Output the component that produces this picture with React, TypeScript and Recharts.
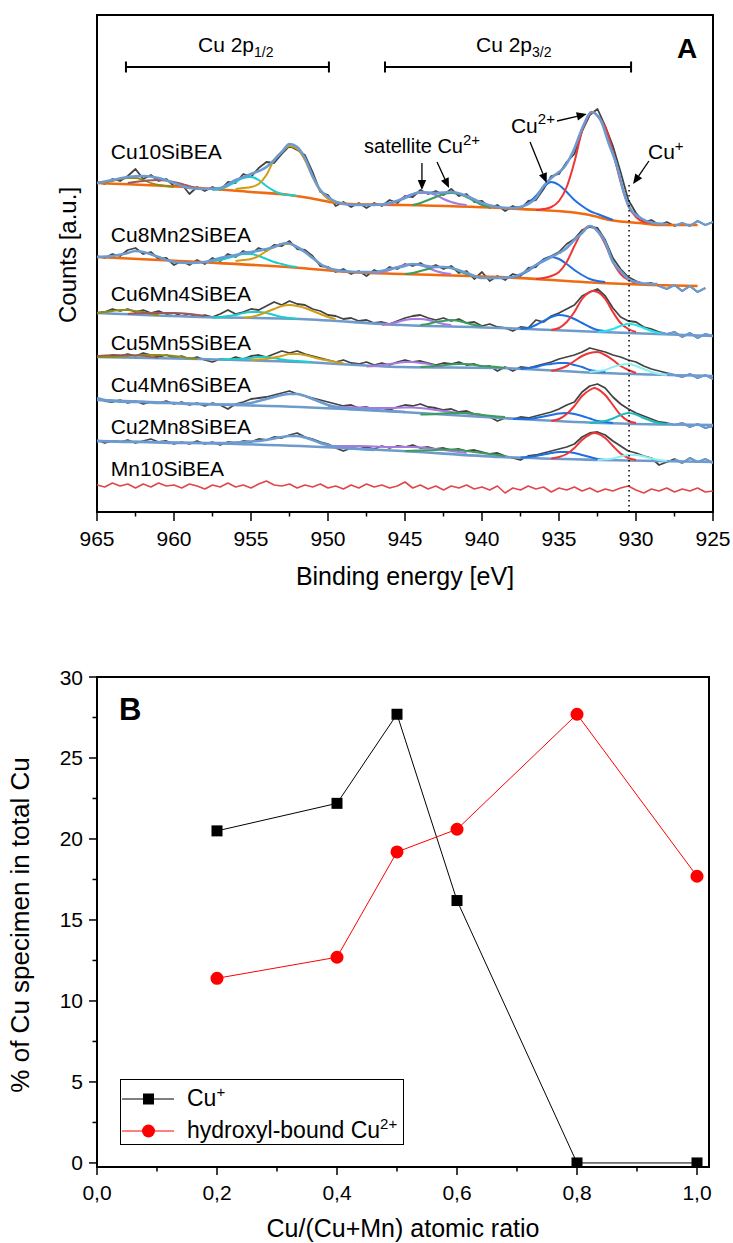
import React from 'react';
import {
  ComposedChart,
  Line,
  XAxis,
  YAxis,
  ReferenceLine,
  ReferenceDot,
  ReferenceArea,
  Legend,
} from 'recharts';

const FONT = '"Liberation Sans", Arial, Helvetica, sans-serif';

type Pt = [number, number];
type Raw = (number | null)[];

/* ===================== Panel A data: Cu 2p XPS spectra ===================== */
/* raw spectra sampled every 0.5 eV from 965 eV down to 925 eV (81 values) */
const RAW_START_EV = 965;
const RAW_STEP_EV = 0.5;

const CU10_RAW: Raw = [
  330, 328, 333, 331, 336, 343, 333, 337, 331, 333,
  326, 328, 318, 325, 321, 325, 322, 330, 329, 338,
  335, 344, 350, 349, 358, 366, 362, 357, 340, 320,
  317, 306, 310, 305, 309, 304, 309, 306, 312, 309,
  316, 315, 322, 318, 321, 317, 323, 316, 318, 310,
  311, 304, 307, 301, 306, 303, 311, 312, 323, 336,
  338, 350, 358, 381, 397, 403, 386, 366, 340, 312,
  299, 290, 292, 287, 290, 286, 289, 286, 291, 287,
  290,
];
const CU10_ENV: Pt[] = [
  [965, 329], [964, 332], [963, 335], [962, 336], [961, 334], [960, 329], [959, 324], [958, 323],
  [957, 324], [956, 332], [955, 338], [954, 345], [953.5, 352], [953, 360], [952.5, 368], [952, 365],
  [951.5, 354], [951, 336], [950.5, 322], [950, 315], [949, 308], [948, 307], [947, 307], [946, 309],
  [945, 314], [944, 320], [943, 319], [942, 320], [941, 316], [940, 309], [939, 305], [938, 304],
  [937, 308], [936.5, 314], [936, 326], [935.5, 334], [935, 340], [934.7, 344], [934.1, 360],
  [933.4, 387], [932.9, 400], [932.3, 392], [931.8, 370], [931.2, 344], [930.8, 320], [930.4, 304],
  [929.7, 294], [928.9, 289], [928, 288],
];
const CU10_BG: Pt[] = [
  [965, 329], [958.3, 324], [955, 320], [952.5, 317], [951.2, 314], [949.9, 310], [948.6, 308],
  [945.2, 307], [938.8, 304], [936.2, 302], [934.3, 300], [933, 297], [931.7, 292], [929.8, 289],
  [928.5, 287], [926, 287],
];
const CU10_RED: Pt[] = [
  [936.5, 302], [936, 303], [935.5, 305], [935, 311], [934.5, 325], [934, 350], [933.5, 381],
  [933, 398], [932.8, 400], [932.5, 396], [932, 385], [931.5, 360], [931, 330], [930.5, 306],
  [930, 295], [929.5, 290], [929, 289],
];
const CU10_BLUE: Pt[] = [
  [938, 304], [937.5, 305], [937, 309], [936.5, 316], [936, 325], [935.5, 330], [935, 327],
  [934.5, 320], [934, 312], [933.5, 306], [933, 301], [932.5, 298], [932, 295], [931.5, 292],
];
const CU10_PURPLE: Pt[] = [
  [946.5, 307], [946, 308], [945.5, 311], [945, 315], [944.5, 318], [944, 319], [943.5, 319],
  [943, 317], [942.5, 313], [942, 310], [941.5, 308], [941, 307],
];
const CU10_GREEN: Pt[] = [
  [944.5, 307], [944, 309], [943.5, 312], [943, 315], [942.5, 318], [942, 319], [941.5, 318],
  [941, 315], [940.5, 311], [940, 307], [939.5, 305],
];
const CU10_GOLD: Pt[] = [
  [956, 323], [955.5, 324], [955, 325], [954.5, 328], [954, 337], [953.5, 352], [953, 360],
  [952.5, 366], [952, 363], [951.5, 352], [951, 335], [950.5, 321], [950, 313], [949.5, 310], [949, 309],
];
const CU10_CYAN: Pt[] = [
  [957.5, 322], [957, 323], [956.5, 326], [956, 330], [955.5, 334], [955, 335], [954.5, 332],
  [954, 326], [953.5, 321], [953, 318], [952.5, 317], [952, 316],
];
const CU10_OLIVE: Pt[] = [
  [965, 329], [964.5, 330], [964, 331], [963.5, 333], [963, 334], [962.5, 334], [962, 332],
  [961.5, 329], [961, 327], [960.5, 326], [960, 325],
];
const CU10_BROWN: Pt[] = [[963, 329], [962, 331], [961, 332], [960, 330], [959, 326], [958.5, 324]];

const CU82_RAW: Raw = [
  256, 254, 258, 256, 262, 264, 258, 260, 253, 254,
  247, 251, 247, 252, 248, 254, 251, 258, 255, 261,
  258, 264, 261, 267, 266, 271, 263, 262, 256, 246,
  245, 240, 243, 238, 241, 236, 242, 239, 245, 243,
  248, 246, 249, 244, 247, 243, 246, 239, 241, 233,
  240, 231, 236, 232, 238, 236, 244, 245, 253, 256,
  260, 268, 273, 282, 285, 284, 272, 254, 243, 235,
  231, 228, 229, 226, 223, 227, 221, 226, 220, 224,
  null,
];
const CU82_ENV: Pt[] = [
  [965, 255], [964, 256], [963, 259], [962.5, 261], [962, 260], [961, 255], [960, 250], [959, 249],
  [958, 250], [957, 254], [956, 257], [955.5, 259], [955, 260], [954, 263], [953.5, 265], [953, 268],
  [952.7, 269], [952, 265], [951.5, 260], [951, 254], [950.5, 248], [950, 244], [949, 241], [948, 240],
  [947, 240], [946, 243], [945, 246], [944.5, 248], [944, 247], [943, 245], [942.5, 245], [942, 244],
  [941, 239], [940, 234], [939, 234], [938, 235], [937, 242], [936.5, 247], [936, 251], [935.5, 255],
  [935, 259], [934.5, 264], [934, 272], [933.5, 279], [933, 286], [932.5, 281], [932, 270],
  [931.5, 250], [931, 241], [930.5, 233], [930, 230], [929, 228], [928.6, 228],
];
const CU82_BG: Pt[] = [
  [965, 255], [958.3, 250], [951.8, 244], [948.6, 240], [945.2, 238], [938.8, 235], [932.3, 229],
  [929, 227], [926, 226],
];
const CU82_RED: Pt[] = [
  [936.5, 233], [936, 234], [935.5, 236], [935, 240], [934.5, 250], [934, 266], [933.5, 280],
  [933, 286], [932.5, 281], [932, 268], [931.5, 250], [931, 238], [930.5, 232], [930, 229],
];
const CU82_BLUE: Pt[] = [
  [938, 235], [937.5, 237], [937, 241], [936.5, 247], [936, 252], [935.5, 255], [935, 253],
  [934.5, 248], [934, 242], [933.5, 237], [933, 233], [932.5, 231], [932, 230],
];
const CU82_PURPLE: Pt[] = [
  [947, 239], [946.5, 240], [946, 242], [945.5, 245], [945, 247], [944.5, 248], [944, 247],
  [943.5, 244], [943, 241], [942.5, 239], [942, 238],
];
const CU82_GREEN: Pt[] = [
  [945, 238], [944.5, 239], [944, 241], [943.5, 243], [943, 245], [942.5, 245], [942, 244],
  [941.5, 241], [941, 238], [940.5, 236],
];
const CU82_GOLD: Pt[] = [
  [956, 251], [955.5, 252], [955, 253], [954.5, 256], [954, 261], [953.5, 265], [953, 268],
  [952.5, 268], [952, 265], [951.5, 260], [951, 254], [950.5, 248], [950, 244], [949.5, 242],
];
const CU82_CYAN: Pt[] = [
  [958, 250], [957.5, 251], [957, 252], [956.5, 254], [956, 256], [955.5, 258], [955, 258],
  [954.5, 256], [954, 253], [953.5, 250], [953, 248], [952.5, 246], [952, 245],
];

const CU64_RAW: Raw = [
  199, 200, 203, 201, 203, 200, 202, 199, 201, 198,
  199, 196, 198, 195, 197, 195, 198, 202, 198, 200,
  203, 202, 206, 210, 207, 211, 208, 207, 203, 201,
  197, 196, 193, 194, 191, 192, 189, 190, 188, 191,
  194, 196, 197, 194, 192, 194, 191, 193, 189, 190,
  186, 188, 185, 184, 181, 185, 184, 192, 190, 196,
  199, 203, 207, 216, 220, 223, 216, 204, 195, 191,
  190, 185, 183, 180, 178, 180, 175, 179, 174, 178,
  176,
];
const CU64_BG: Pt[] = [[965, 199], [958.3, 195], [951.8, 193], [945.2, 187], [938.8, 184], [932.3, 180], [925, 176]];
const CU64_OLIVE: Pt[] = [
  [965, 199], [964.5, 200], [964, 201], [963.5, 202], [963, 202], [962.5, 201], [962, 200], [961.5, 198], [961, 197],
];
const CU64_BROWN: Pt[] = [[963, 198], [962, 199], [961, 199], [960, 199], [959, 198], [958, 196]];
const CU64_CYAN: Pt[] = [
  [957.5, 194], [957, 195], [956.5, 196], [956, 197], [955.5, 199], [955, 200], [954.5, 200],
  [954, 199], [953.5, 197], [953, 195], [952.5, 194], [952, 193],
];
const CU64_GOLD: Pt[] = [
  [955.5, 194], [955, 195], [954.5, 197], [954, 200], [953.5, 203], [953, 206], [952.5, 207],
  [952, 206], [951.5, 204], [951, 201], [950.5, 198], [950, 195], [949.5, 193],
];
const CU64_PURPLE: Pt[] = [
  [946.5, 187], [946, 188], [945.5, 190], [945, 192], [944.5, 193], [944, 193], [943.5, 192],
  [943, 190], [942.5, 188], [942, 187],
];
const CU64_GREEN: Pt[] = [
  [944, 187], [943.5, 188], [943, 190], [942.5, 191], [942, 192], [941.5, 191], [941, 189], [940.5, 187], [940, 186],
];
const CU64_BLUE: Pt[] = [
  [937.5, 183], [937, 184], [936.5, 187], [936, 191], [935.5, 195], [935, 197], [934.5, 196],
  [934, 193], [933.5, 189], [933, 185], [932.5, 182], [932, 181],
];
const CU64_RED: Pt[] = [
  [935.5, 182], [935, 184], [934.5, 190], [934, 200], [933.5, 213], [933, 220], [932.8, 221],
  [932.5, 220], [932, 213], [931.5, 200], [931, 189], [930.5, 183], [930, 180],
];
const CU64_CUPLUS: Pt[] = [
  [932.5, 180], [932, 181], [931.5, 183], [931, 186], [930.5, 188], [930, 187], [929.5, 184],
  [929, 181], [928.5, 179], [928, 178],
];

const CU55_RAW: Raw = [
  156, 155, 157, 156, 158, 156, 159, 157, 155, 157,
  154, 156, 153, 155, 152, 150, 153, 152, 155, 153,
  156, 157, 155, 158, 161, 159, 161, 158, 156, 154,
  152, 150, 152, 149, 148, 150, 147, 149, 147, 150,
  152, 150, 151, 149, 147, 149, 148, 150, 147, 148,
  145, 146, 141, 145, 141, 145, 144, 146, 148, 150,
  153, 155, 157, 160, 164, 162, 160, 157, 155, 152,
  150, 146, 143, 141, 139, 137, 135, 138, 134, 137,
  133,
];
const CU55_BG: Pt[] = [[965, 155], [958.3, 153], [951.8, 150], [945.2, 145], [938.8, 144], [932.3, 139], [925, 136]];
const CU55_OLIVE: Pt[] = [[965, 155], [964, 155], [963, 156], [962, 157], [961, 157], [960, 156], [959, 154], [958.5, 153]];
const CU55_BROWN: Pt[] = [[965, 156], [964, 157], [963, 157], [962, 156], [961, 154]];
const CU55_CYAN: Pt[] = [
  [957, 152.5], [956, 153], [955, 154], [954.5, 155], [954, 155], [953.5, 154], [953, 152.5], [952, 151], [951, 150],
];
const CU55_GOLD: Pt[] = [
  [955, 152], [954.5, 152.5], [954, 153], [953.5, 154.5], [953, 156], [952.5, 158], [952, 158],
  [951.5, 157], [951, 155], [950.5, 153], [950, 151.5], [949.5, 150], [949, 149],
];
const CU55_PURPLE: Pt[] = [
  [947.5, 145.5], [947, 146], [946.5, 147], [946, 148], [945.5, 149], [945, 150], [944.5, 150],
  [944, 149], [943.5, 148], [943, 146], [942.5, 145],
];
const CU55_GREEN: Pt[] = [
  [944, 145], [943, 146], [942, 147.5], [941.5, 148], [941, 148], [940.5, 147], [940, 146], [939, 145], [938.5, 144],
];
const CU55_BLUE: Pt[] = [
  [937.5, 143], [937, 144], [936.5, 145], [936, 147], [935.5, 148], [935, 149], [934.5, 149],
  [934, 147], [933.5, 145], [933, 142], [932.5, 141], [932, 140],
];
const CU55_RED: Pt[] = [
  [935.5, 141], [935, 143], [934.5, 146], [934, 151], [933.5, 156], [933, 159], [932.5, 160],
  [932, 157], [931.5, 152], [931, 146], [930.5, 142], [930, 139],
];
const CU55_CUPLUS: Pt[] = [
  [933, 140], [932.5, 141], [932, 142], [931.5, 145], [931, 147], [930.5, 148], [930, 146],
  [929.5, 143], [929, 140], [928.5, 138], [928, 137],
];

const CU46_RAW: Raw = [
  114, 111, 110, 112, 109, 111, 108, 110, 109, 111,
  108, 110, 107, 109, 106, 109, 107, 103, 108, 110,
  113, 114, 115, 117, 119, 121, 118, 116, 114, 112,
  110, 108, 106, 107, 104, 105, 103, 104, 102, 105,
  107, 106, 108, 105, 104, 102, 103, 100, 101, 98,
  97, 95, 91, 94, 93, 95, 94, 96, 98, 100,
  103, 107, 110, 120, 126, 128, 124, 115, 108, 103,
  99, 96, 93, 90, 89, 87, 89, 85, 88, 84,
  86,
];
const CU46_ENV: Pt[] = [
  [965, 114], [964.5, 112], [964, 111], [963, 110], [962, 110], [961, 109], [960, 109], [959, 108],
  [958, 108], [957, 107.5], [956, 107.5], [955, 109], [954.5, 111], [954, 113], [953.5, 115], [953, 117],
  [952.5, 118], [952, 118], [951.5, 116], [951, 113], [950.5, 110], [950, 107], [949.5, 105],
  [949, 104], [948.5, 103], [948, 103], [947, 102], [946, 101], [945, 100],
];
const CU46_BG: Pt[] = [[965, 112], [958.3, 108], [951.8, 105], [945.2, 100], [938.8, 94], [932.3, 89], [925, 87]];
const CU46_PURPLE: Pt[] = [
  [950, 106], [949, 105], [948, 104.5], [947, 104], [946, 104], [945, 104.5], [944.5, 104.5],
  [944, 104], [943, 102], [942, 100], [941, 98.5], [940, 97],
];
const CU46_GREEN: Pt[] = [
  [944, 97.5], [943, 98], [942, 99], [941.5, 99], [941, 99], [940.5, 98], [940, 97], [939, 95.5], [938.5, 95],
];
const CU46_BLUE: Pt[] = [
  [938, 93], [937, 93], [936.5, 94], [936, 95.5], [935.5, 97], [935, 98.5], [934.5, 99], [934, 98],
  [933.5, 96], [933, 93.5], [932.5, 91], [932, 90], [931.5, 89],
];
const CU46_RED: Pt[] = [
  [935.5, 91], [935, 93], [934.5, 98], [934, 106], [933.5, 116], [933, 122], [932.7, 124],
  [932.5, 123], [932, 117], [931.5, 107], [931, 97], [930.5, 91], [930, 89],
];
const CU46_CUPLUS: Pt[] = [
  [933, 89], [932.5, 90], [932, 91], [931.5, 93.5], [931, 97], [930.5, 99], [930, 97.5],
  [929.5, 94], [929, 91], [928.5, 89], [928, 88],
];

const CU28_RAW: Raw = [
  72, 69, 71, 70, 72, 69, 71, 73, 70, 71,
  68, 70, 68, 71, 68, 70, 67, 70, 69, 71,
  70, 73, 72, 75, 74, 77, 79, 75, 73, 70,
  68, 64, 61, 64, 63, 65, 63, 66, 64, 66,
  65, 67, 64, 65, 63, 64, 62, 63, 61, 62,
  60, 58, 59, 56, 54, 52, 56, 57, 59, 61,
  63, 65, 68, 75, 79, 80, 77, 71, 66, 61,
  59, 56, 54, 47, 50, 53, 49, 54, 50, 53,
  49,
];
const CU28_ENV: Pt[] = [
  [965, 71], [964, 70.5], [963, 70], [962, 70], [961, 69.5], [960, 69], [959, 69], [958, 69],
  [957, 69], [956, 69.5], [955, 70.5], [954, 72], [953.5, 73.5], [953, 75], [952.5, 76], [952, 76],
  [951.5, 74.5], [951, 72], [950.5, 69], [950, 67], [949.5, 65], [949, 64], [948, 63], [947, 62],
];
const CU28_BG: Pt[] = [[965, 71], [958.3, 69], [951.8, 66], [945.2, 61], [938.8, 55], [932.3, 52], [925, 50]];
const CU28_PURPLE: Pt[] = [
  [950, 66], [949, 66], [948, 66], [947, 65.5], [946, 65], [945, 65], [944.5, 65], [944, 64.5],
  [943, 63], [942, 61], [941, 59],
];
const CU28_GREEN: Pt[] = [
  [945, 61], [944, 61.5], [943, 62], [942.5, 62.5], [942, 62.5], [941.5, 62], [941, 61], [940, 59], [939, 57], [938.5, 56],
];
const CU28_BLUE: Pt[] = [
  [937.5, 54.5], [937, 55], [936.5, 56], [936, 57.5], [935.5, 59], [935, 60], [934.5, 60],
  [934, 59], [933.5, 57], [933, 55], [932.5, 53], [932, 52],
];
const CU28_RED: Pt[] = [
  [935.5, 53.5], [935, 55], [934.5, 58], [934, 64], [933.5, 72], [933, 77.5], [932.7, 79],
  [932.5, 78.5], [932, 74], [931.5, 66], [931, 58.5], [930.5, 54], [930, 52],
];
const CU28_CUPLUS: Pt[] = [
  [932.5, 52], [932, 52.5], [931.5, 53.5], [931, 55.5], [930.5, 57], [930, 57], [929.5, 55.5],
  [929, 53.5], [928.5, 52], [928, 51],
];

const MN10_RAW: Raw = [
  27, 25, 29, 26, 28, 24, 28, 25, 29, 26,
  27, 24, 28, 26, 23, 27, 25, 29, 25, 27,
  24, 28, 31, 27, 26, 28, 24, 27, 25, 28,
  24, 26, 23, 27, 24, 28, 25, 27, 24, 26,
  30, 24, 27, 23, 26, 22, 26, 24, 27, 23,
  25, 22, 26, 19, 24, 22, 26, 23, 25, 20,
  24, 22, 25, 21, 24, 20, 23, 21, 24, 26,
  22, 19, 23, 21, 24, 20, 23, 21, 24, 20,
  21,
];

/* energies below which the uncorrected tail is shown in the envelope colour */
const CU10_TAIL_FROM = 927.5;
const CU82_TAIL_FROM = 928.5;
const CU64_TAIL_FROM = 928.5;
const CU55_TAIL_FROM = 928;
const CU46_TAIL_FROM = 928;
const CU28_TAIL_FROM = 927.5;

const SAMPLE_NAMES = ['Cu10SiBEA', 'Cu8Mn2SiBEA', 'Cu6Mn4SiBEA', 'Cu5Mn5SiBEA', 'Cu4Mn6SiBEA', 'Cu2Mn8SiBEA', 'Mn10SiBEA'];
const A_TICKS = [925, 927.5, 930, 932.5, 935, 937.5, 940, 942.5, 945, 947.5, 950, 952.5, 955, 957.5, 960, 962.5, 965];

/* ===================== Panel B data ===================== */
const RATIO = [0.2, 0.4, 0.5, 0.6, 0.8, 1.0];
const CU_PLUS = [20.5, 22.2, 27.7, 16.2, 0, 0];
const CU2_HYDROXYL = [11.4, 12.7, 19.2, 20.6, 27.7, 17.7];
const B_X_TICKS = [0, 0.1, 0.2, 0.3, 0.4, 0.5, 0.6, 0.7, 0.8, 0.9, 1.0];
const B_Y_TICKS = [0, 2.5, 5, 7.5, 10, 12.5, 15, 17.5, 20, 22.5, 25, 27.5, 30];

/* ===================== styles ===================== */
const COL = {
  raw: '#434343',
  env: '#6c9bd2',
  bgOrange: '#f06a10',
  bgBlue: '#6f9bcb',
  red: '#ee3636',
  blue: '#1d6fe2',
  cyan: '#1ecccc',
  purple: '#a77ae0',
  green: '#3a9d5c',
  gold: '#d09e12',
  olive: '#8e8d18',
  brown: '#a05858',
  mn: '#e2454a',
};

type SeriesDef = {
  key: string;
  raw?: Raw;
  pts?: Pt[];
  upTo?: number;
  color: string;
  width: number;
  smooth: boolean;
};

const S = (key: string, data: Raw | Pt[], color: string, width: number, smooth: boolean, upTo?: number): SeriesDef => {
  const isPts = data.length > 0 && Array.isArray(data[0]);
  return isPts
    ? { key, pts: data as Pt[], color, width, smooth }
    : { key, raw: data as Raw, color, width, smooth, upTo };
};

const RAW_W = 1.8;

const SERIES_A: SeriesDef[] = [
  // Cu10SiBEA
  S('cu10Raw', CU10_RAW, COL.raw, RAW_W, false),
  S('cu10Bg', CU10_BG, COL.bgOrange, 2.6, true),
  S('cu10Olive', CU10_OLIVE, COL.olive, 1.8, true),
  S('cu10Brown', CU10_BROWN, COL.brown, 1.8, true),
  S('cu10Cyan', CU10_CYAN, COL.cyan, 2, true),
  S('cu10Gold', CU10_GOLD, COL.gold, 2, true),
  S('cu10Purple', CU10_PURPLE, COL.purple, 2, true),
  S('cu10Green', CU10_GREEN, COL.green, 2, true),
  S('cu10Blue', CU10_BLUE, COL.blue, 2, true),
  S('cu10Red', CU10_RED, COL.red, 2, true),
  S('cu10Env', CU10_ENV, COL.env, 2.6, true),
  S('cu10Tail', CU10_RAW, COL.env, 2, false, CU10_TAIL_FROM),
  // Cu8Mn2SiBEA
  S('cu82Raw', CU82_RAW, COL.raw, RAW_W, false),
  S('cu82Bg', CU82_BG, COL.bgOrange, 2.6, true),
  S('cu82Cyan', CU82_CYAN, COL.cyan, 2, true),
  S('cu82Gold', CU82_GOLD, COL.gold, 2, true),
  S('cu82Purple', CU82_PURPLE, COL.purple, 2, true),
  S('cu82Green', CU82_GREEN, COL.green, 2, true),
  S('cu82Blue', CU82_BLUE, COL.blue, 2, true),
  S('cu82Red', CU82_RED, COL.red, 2, true),
  S('cu82Env', CU82_ENV, COL.env, 2.6, true),
  S('cu82Tail', CU82_RAW, COL.env, 2, false, CU82_TAIL_FROM),
  // Cu6Mn4SiBEA
  S('cu64Raw', CU64_RAW, COL.raw, RAW_W, false),
  S('cu64Bg', CU64_BG, COL.bgBlue, 2.6, true),
  S('cu64Olive', CU64_OLIVE, COL.olive, 1.8, true),
  S('cu64Brown', CU64_BROWN, COL.brown, 1.8, true),
  S('cu64Cyan', CU64_CYAN, COL.cyan, 2, true),
  S('cu64Gold', CU64_GOLD, COL.gold, 2, true),
  S('cu64Purple', CU64_PURPLE, COL.purple, 2, true),
  S('cu64Green', CU64_GREEN, COL.green, 2, true),
  S('cu64Blue', CU64_BLUE, COL.blue, 2, true),
  S('cu64Red', CU64_RED, COL.red, 2, true),
  S('cu64CuPlus', CU64_CUPLUS, '#27e3ea', 2, true),
  S('cu64Tail', CU64_RAW, COL.env, 2, false, CU64_TAIL_FROM),
  // Cu5Mn5SiBEA
  S('cu55Raw', CU55_RAW, COL.raw, RAW_W, false),
  S('cu55Bg', CU55_BG, COL.bgBlue, 2.6, true),
  S('cu55Olive', CU55_OLIVE, COL.olive, 1.8, true),
  S('cu55Brown', CU55_BROWN, COL.brown, 1.6, true),
  S('cu55Cyan', CU55_CYAN, COL.cyan, 2, true),
  S('cu55Gold', CU55_GOLD, COL.gold, 2, true),
  S('cu55Purple', CU55_PURPLE, COL.purple, 2, true),
  S('cu55Green', CU55_GREEN, COL.green, 2, true),
  S('cu55Blue', CU55_BLUE, COL.blue, 2, true),
  S('cu55Red', CU55_RED, COL.red, 2, true),
  S('cu55CuPlus', CU55_CUPLUS, '#8eeef0', 2, true),
  S('cu55Tail', CU55_RAW, COL.env, 2, false, CU55_TAIL_FROM),
  // Cu4Mn6SiBEA
  S('cu46Raw', CU46_RAW, COL.raw, RAW_W, false),
  S('cu46Bg', CU46_BG, COL.bgBlue, 2.6, true),
  S('cu46Purple', CU46_PURPLE, COL.purple, 2, true),
  S('cu46Green', CU46_GREEN, COL.green, 2, true),
  S('cu46Blue', CU46_BLUE, COL.blue, 2, true),
  S('cu46Red', CU46_RED, COL.red, 2, true),
  S('cu46CuPlus', CU46_CUPLUS, '#1bbcbc', 2, true),
  S('cu46Env', CU46_ENV, COL.env, 2.6, true),
  S('cu46Tail', CU46_RAW, COL.env, 2, false, CU46_TAIL_FROM),
  // Cu2Mn8SiBEA
  S('cu28Raw', CU28_RAW, COL.raw, RAW_W, false),
  S('cu28Bg', CU28_BG, COL.bgBlue, 2.6, true),
  S('cu28Purple', CU28_PURPLE, COL.purple, 2, true),
  S('cu28Green', CU28_GREEN, COL.green, 2, true),
  S('cu28Blue', CU28_BLUE, COL.blue, 2, true),
  S('cu28Red', CU28_RED, COL.red, 2, true),
  S('cu28CuPlus', CU28_CUPLUS, '#8af0f0', 2, true),
  S('cu28Env', CU28_ENV, COL.env, 2.6, true),
  S('cu28Tail', CU28_RAW, COL.env, 2, false, CU28_TAIL_FROM),
  // Mn10SiBEA
  S('mn10Raw', MN10_RAW, COL.mn, 1.6, false),
];

function buildTableA(list: SeriesDef[]) {
  const rows = new Map<string, any>();
  const put = (e: number, key: string, v: number) => {
    const k = e.toFixed(2);
    let r = rows.get(k);
    if (!r) {
      r = { e };
      rows.set(k, r);
    }
    r[key] = v;
  };
  list.forEach((s) => {
    if (s.raw) {
      s.raw.forEach((v, i) => {
        const e = RAW_START_EV - i * RAW_STEP_EV;
        if (v === null || v === undefined) return;
        if (s.upTo !== undefined && e > s.upTo) return;
        put(e, s.key, v);
      });
    }
    if (s.pts) s.pts.forEach(([e, v]) => put(e, s.key, v));
  });
  return Array.from(rows.values()).sort((a, b) => b.e - a.e);
}

const TABLE_A = buildTableA(SERIES_A);
const TABLE_B = RATIO.map((r, i) => ({ r, cuPlus: CU_PLUS[i], hydroxyl: CU2_HYDROXYL[i] }));

/* ===================== layout (annotation positions in data units) ===================== */
const SAMPLE_LABEL_EV = 964.1;
const SAMPLE_LABEL_BASE = [353.5, 270, 211, 162.5, 120, 78.5, 36];

const ARROWS: [Pt, Pt][] = [
  [[943.9, 349], [943.9, 322]],
  [[942.92, 350], [942.14, 324]],
  [[935.13, 391], [933.2, 398]],
  [[936.88, 370], [935.8, 329]],
  [[929.16, 351], [930.19, 328]],
];
const BRACKETS: [Pt, Pt][] = [
  [[963.12, 445], [949.94, 445]],
  [[946.3, 445], [930.32, 445]],
];
const CU_PLUS_LINE: [Pt, Pt] = [[930.45, 327], [930.45, 0]];

/* ===================== rendering helpers ===================== */
function TickA(props: any) {
  const { x, y, payload } = props;
  const v = payload.value as number;
  const major = Math.abs(v % 5) < 1e-6;
  return (
    <g>
      <line x1={x} y1={y} x2={x} y2={y + (major ? 9 : 4.5)} stroke="#000" strokeWidth={1.5} />
      {major ? (
        <text x={x} y={y + 34} textAnchor="middle" fontSize={21} fontFamily={FONT} fill="#000">
          {v}
        </text>
      ) : null}
    </g>
  );
}

function TickBX(props: any) {
  const { x, y, payload } = props;
  const v = payload.value as number;
  const major = Math.round(v * 10) % 2 === 0;
  return (
    <g>
      <line x1={x} y1={y} x2={x} y2={y + (major ? 8 : 4.5)} stroke="#000" strokeWidth={1.5} />
      {major ? (
        <text x={x} y={y + 33} textAnchor="middle" fontSize={21} fontFamily={FONT} fill="#000">
          {v.toFixed(1).replace('.', ',')}
        </text>
      ) : null}
    </g>
  );
}

function TickBY(props: any) {
  const { x, y, payload } = props;
  const v = payload.value as number;
  const major = Math.abs(v % 5) < 1e-6;
  return (
    <g>
      <line x1={x} y1={y} x2={x - (major ? 8 : 4.5)} y2={y} stroke="#000" strokeWidth={1.5} />
      {major ? (
        <text x={x - 14} y={y + 7.5} textAnchor="end" fontSize={21} fontFamily={FONT} fill="#000">
          {v}
        </text>
      ) : null}
    </g>
  );
}

const arrowShape = (p: any) => {
  const { x1, y1, x2, y2 } = p;
  const dx = x2 - x1;
  const dy = y2 - y1;
  const len = Math.hypot(dx, dy) || 1;
  const ux = dx / len;
  const uy = dy / len;
  const hl = 10;
  const hw = 4.2;
  const bx = x2 - ux * hl;
  const by = y2 - uy * hl;
  const pts = `${x2},${y2} ${bx - uy * hw},${by + ux * hw} ${bx + uy * hw},${by - ux * hw}`;
  return (
    <g>
      <line x1={x1} y1={y1} x2={bx} y2={by} stroke="#000" strokeWidth={1.3} />
      <polygon points={pts} fill="#000" />
    </g>
  );
};

const bracketShape = (p: any) => {
  const { x1, y1, x2, y2 } = p;
  return (
    <g stroke="#000" strokeWidth={2}>
      <line x1={x1} y1={y1} x2={x2} y2={y2} />
      <line x1={x1} y1={y1 - 5.5} x2={x1} y2={y1 + 5.5} />
      <line x1={x2} y1={y2 - 5.5} x2={x2} y2={y2 + 5.5} />
    </g>
  );
};

const textAt = (key: string, x: number, y: number, render: (cx: number, cy: number) => React.ReactElement) => (
  <ReferenceDot
    key={key}
    x={x}
    y={y}
    r={1}
    fill="none"
    stroke="none"
    shape={(p: any) => render(p.cx, p.cy)}
  />
);

const supStyle: React.CSSProperties = { fontSize: 15, verticalAlign: 'top', position: 'relative', top: -6 };

const LegendB = () => (
  <div
    style={{
      position: 'relative',
      width: 284,
      height: 66,
      border: '1px solid #000',
      boxSizing: 'border-box',
      background: '#fff',
      fontFamily: FONT,
      color: '#000',
    }}
  >
    <svg width={54} height={20} style={{ position: 'absolute', left: 1, top: 9 }}>
      <line x1={0} y1={10} x2={52} y2={10} stroke="#000" strokeWidth={1} />
      <rect x={21} y={4.5} width={11} height={11} fill="#000" />
    </svg>
    <div style={{ position: 'absolute', left: 66, top: 4, fontSize: 23, lineHeight: '28px', whiteSpace: 'nowrap' }}>
      Cu<sup style={supStyle}>+</sup>
    </div>
    <svg width={54} height={20} style={{ position: 'absolute', left: 1, top: 41 }}>
      <line x1={0} y1={10} x2={52} y2={10} stroke="#ff0000" strokeWidth={1} />
      <circle cx={26.5} cy={10} r={6.5} fill="#ff0000" />
    </svg>
    <div style={{ position: 'absolute', left: 66, top: 36, fontSize: 23, lineHeight: '28px', whiteSpace: 'nowrap' }}>
      hydroxyl-bound Cu<sup style={supStyle}>2+</sup>
    </div>
  </div>
);

export default function App() {
  return (
    <div style={{ position: 'absolute', left: 0, top: 0, width: 733, height: 1243, background: '#fff' }}>
      {/* ---------------- Panel A ---------------- */}
      <div style={{ position: 'absolute', left: 0, top: 0 }}>
        <ComposedChart width={733} height={600} data={TABLE_A} margin={{ top: 15, right: 20, bottom: 0, left: 0 }}>
          <XAxis
            dataKey="e"
            type="number"
            domain={[925, 965]}
            reversed
            allowDataOverflow
            ticks={A_TICKS}
            interval={0}
            tickSize={0}
            tickMargin={0}
            tickLine={false}
            tick={<TickA />}
            axisLine={{ stroke: '#000', strokeWidth: 2 }}
            height={88}
            label={{
              content: () => (
                <text x={405} y={585} textAnchor="middle" fontSize={25} fontFamily={FONT} fill="#000">
                  Binding energy [eV]
                </text>
              ),
            }}
          />
          <YAxis
            type="number"
            domain={[0, 497]}
            allowDataOverflow
            width={97}
            tick={false}
            tickLine={false}
            axisLine={false}
            label={{
              content: () => (
                <text
                  transform="translate(76,255) rotate(-90)"
                  textAnchor="middle"
                  fontSize={24}
                  fontFamily={FONT}
                  fill="#000"
                >
                  Counts [a.u.]
                </text>
              ),
            }}
          />
          <ReferenceArea x1={925} x2={965} y1={0} y2={497} fill="none" stroke="#000" strokeWidth={2} />
          {SERIES_A.map((s) => (
            <Line
              key={s.key}
              dataKey={s.key}
              type={s.smooth ? 'monotone' : 'linear'}
              stroke={s.color}
              strokeWidth={s.width}
              strokeLinejoin="round"
              dot={false}
              activeDot={false}
              connectNulls
              isAnimationActive={false}
            />
          ))}
          <ReferenceLine
            segment={[{ x: CU_PLUS_LINE[0][0], y: CU_PLUS_LINE[0][1] }, { x: CU_PLUS_LINE[1][0], y: CU_PLUS_LINE[1][1] }]}
            stroke="#000"
            strokeWidth={1.5}
            strokeDasharray="1.5 3.5"
          />
          {BRACKETS.map((b, i) => (
            <ReferenceLine
              key={`br${i}`}
              segment={[{ x: b[0][0], y: b[0][1] }, { x: b[1][0], y: b[1][1] }]}
              shape={bracketShape}
            />
          ))}
          {ARROWS.map((a, i) => (
            <ReferenceLine
              key={`ar${i}`}
              segment={[{ x: a[0][0], y: a[0][1] }, { x: a[1][0], y: a[1][1] }]}
              shape={arrowShape}
            />
          ))}
          {SAMPLE_NAMES.map((n, i) =>
            textAt(`lab${i}`, SAMPLE_LABEL_EV, SAMPLE_LABEL_BASE[i], (cx, cy) => (
              <text x={cx} y={cy} fontSize={21} fontFamily={FONT} fill="#000">
                {n}
              </text>
            )),
          )}
          {textAt('p12', 958.44, 460, (cx, cy) => (
            <text x={cx} y={cy} fontSize={21} fontFamily={FONT} fill="#000">
              Cu 2p<tspan dy={5} fontSize={14}>1/2</tspan>
            </text>
          ))}
          {textAt('p32', 940.39, 460, (cx, cy) => (
            <text x={cx} y={cy} fontSize={21} fontFamily={FONT} fill="#000">
              Cu 2p<tspan dy={5} fontSize={14}>3/2</tspan>
            </text>
          ))}
          {textAt('sat', 947.66, 359, (cx, cy) => (
            <text x={cx} y={cy} fontSize={20} fontFamily={FONT} fill="#000">
              satellite Cu<tspan dy={-8} fontSize={15}>2+</tspan>
            </text>
          ))}
          {textAt('cu2', 938.12, 379, (cx, cy) => (
            <text x={cx} y={cy} fontSize={21} fontFamily={FONT} fill="#000">
              Cu<tspan dy={-9} fontSize={15}>2+</tspan>
            </text>
          ))}
          {textAt('cu1', 929.22, 353, (cx, cy) => (
            <text x={cx} y={cy} fontSize={21} fontFamily={FONT} fill="#000">
              Cu<tspan dy={-8} fontSize={15}>+</tspan>
            </text>
          ))}
          {textAt('A', 927.34, 454, (cx, cy) => (
            <text x={cx} y={cy} fontSize={28} fontWeight="bold" fontFamily={FONT} fill="#000">
              A
            </text>
          ))}
        </ComposedChart>
      </div>

      {/* ---------------- Panel B ---------------- */}
      <div style={{ position: 'absolute', left: 0, top: 620 }}>
        <ComposedChart width={733} height={623} data={TABLE_B} margin={{ top: 57, right: 24, bottom: 0, left: 0 }}>
          <XAxis
            dataKey="r"
            type="number"
            domain={[0, 1.02]}
            allowDataOverflow
            ticks={B_X_TICKS}
            interval={0}
            tickSize={0}
            tickMargin={0}
            tickLine={false}
            tick={<TickBX />}
            axisLine={{ stroke: '#000', strokeWidth: 2 }}
            height={76}
            label={{
              content: () => (
                <text x={403} y={617} textAnchor="middle" fontSize={25} fontFamily={FONT} fill="#000">
                  Cu/(Cu+Mn) atomic ratio
                </text>
              ),
            }}
          />
          <YAxis
            type="number"
            domain={[-0.25, 30]}
            allowDataOverflow
            ticks={B_Y_TICKS}
            interval={0}
            width={97}
            tickSize={0}
            tickMargin={0}
            tickLine={false}
            tick={<TickBY />}
            axisLine={{ stroke: '#000', strokeWidth: 2 }}
            label={{
              content: () => (
                <text
                  transform="translate(29,305) rotate(-90)"
                  textAnchor="middle"
                  fontSize={26}
                  fontFamily={FONT}
                  fill="#000"
                >
                  % of Cu specimen in total Cu
                </text>
              ),
            }}
          />
          <ReferenceArea x1={0} x2={1.02} y1={-0.25} y2={30} fill="none" stroke="#000" strokeWidth={2} />
          <Line
            dataKey="cuPlus"
            type="linear"
            stroke="#000"
            strokeWidth={1}
            isAnimationActive={false}
            activeDot={false}
            dot={(p: any) => (
              <rect key={`sq${p.index}`} x={p.cx - 5.5} y={p.cy - 5.5} width={11} height={11} fill="#000" />
            )}
          />
          <Line
            dataKey="hydroxyl"
            type="linear"
            stroke="#ff0000"
            strokeWidth={1}
            isAnimationActive={false}
            activeDot={false}
            dot={(p: any) => <circle key={`ci${p.index}`} cx={p.cx} cy={p.cy} r={6.5} fill="#ff0000" />}
          />
          {textAt('B', 0.0367, 27.34, (cx, cy) => (
            <text x={cx} y={cy} fontSize={31} fontWeight="bold" fontFamily={FONT} fill="#000">
              B
            </text>
          ))}
          <Legend
            layout="vertical"
            align="center"
            verticalAlign="middle"
            wrapperStyle={{ left: 120, top: 459, width: 284, height: 66 }}
            content={() => <LegendB />}
          />
        </ComposedChart>
      </div>
    </div>
  );
}
